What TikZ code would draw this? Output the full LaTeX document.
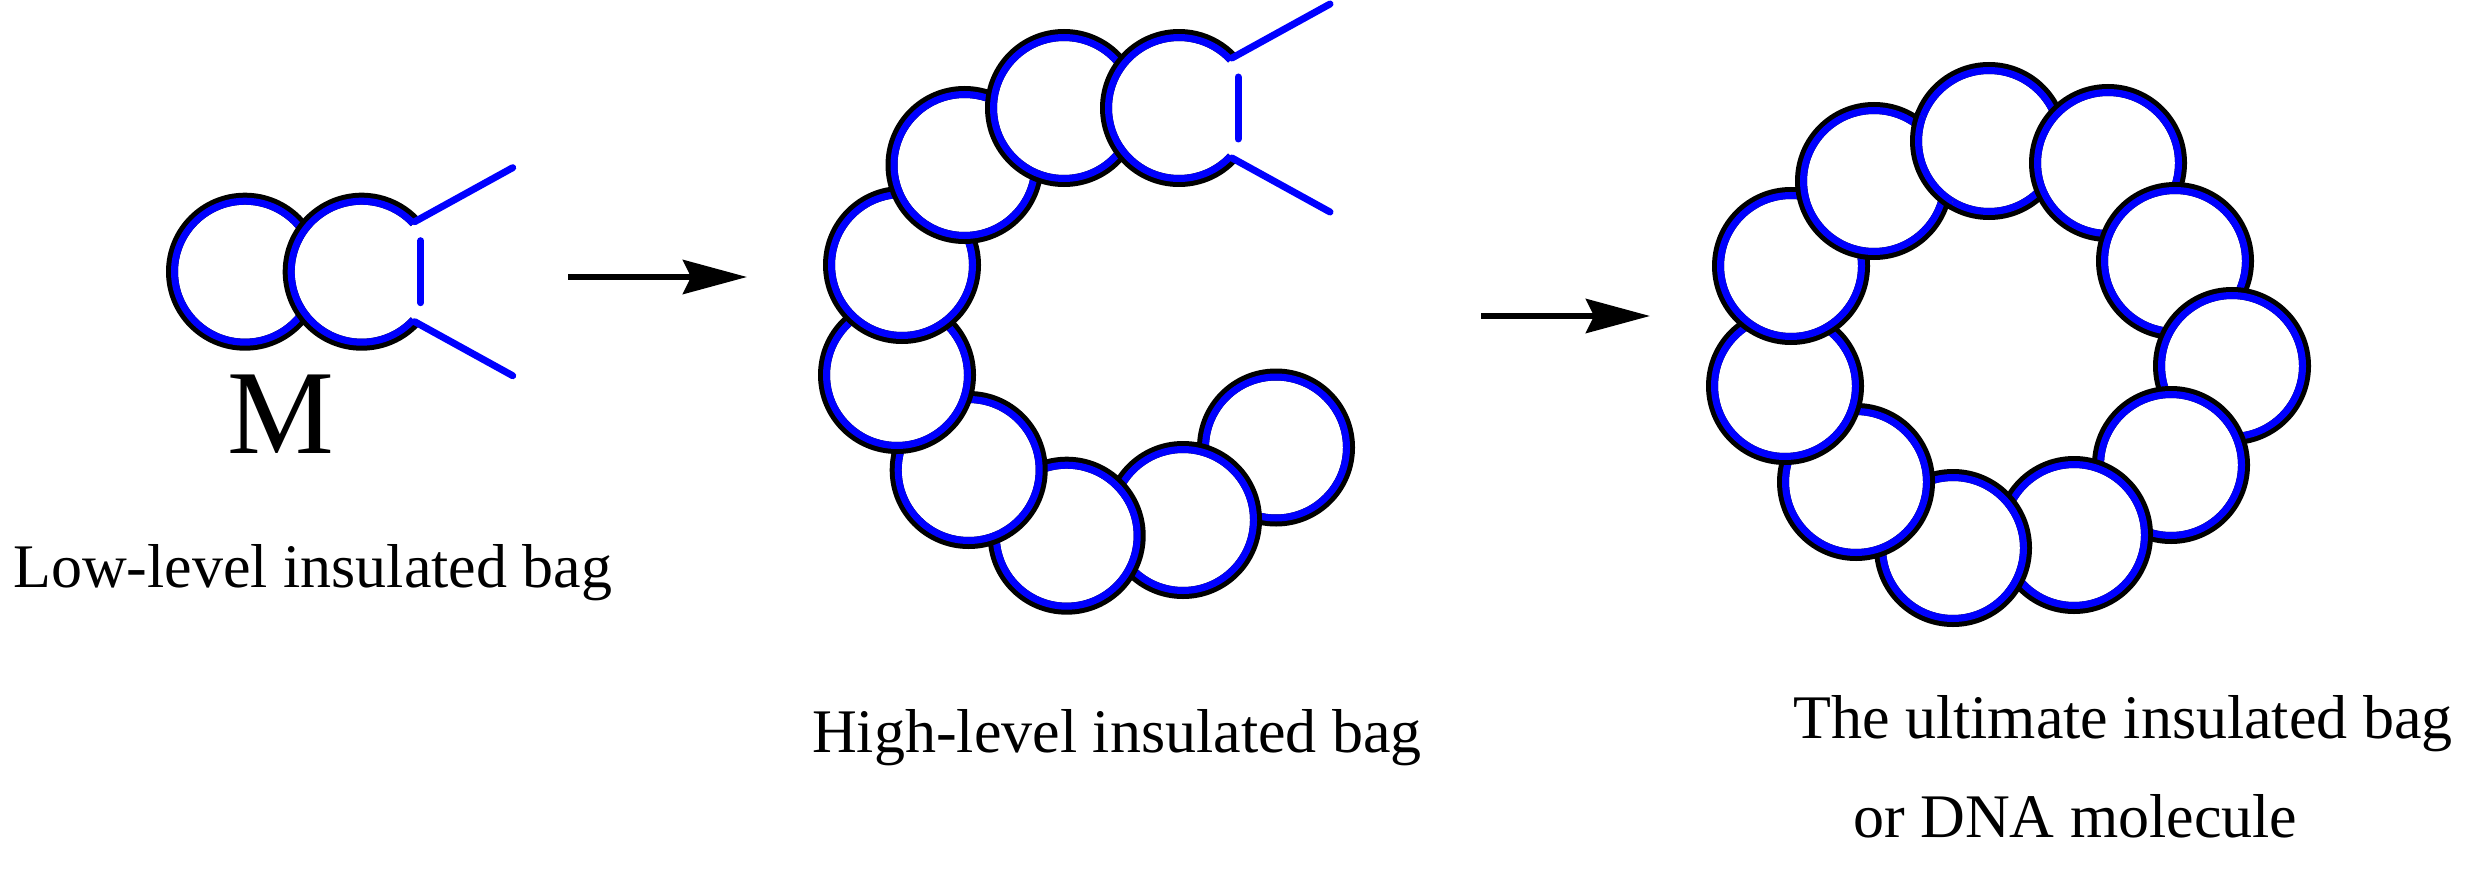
\documentclass[tikz,border=0pt]{standalone}
\usepackage{fontspec}
\setmainfont{Liberation Serif}
\usetikzlibrary{arrows.meta}
\tikzset{
  beadout/.style={draw=black,line width=12pt},
  beadin/.style={draw=blue,line width=7pt},
  blueline/.style={draw=blue,line width=7pt,line cap=round},
  bigarrow/.style={draw=black,line width=6pt,-{Stealth[length=64pt,width=34pt,inset=8pt]}},
  label/.style={inner sep=0pt,font=\fontsize{62}{62}\selectfont},
}
\newcommand{\bead}[1]{%
  \fill[white] (#1) circle[radius=73];
  \draw[beadout] (#1) circle[radius=73];
  \draw[beadin] (#1) circle[radius=70.5];
}
\newcommand{\openbead}[1]{%
  \fill[white] (#1) circle[radius=73];
  \draw[beadout] (#1) ++(43:73) arc[start angle=43,end angle=317,radius=73];
  \draw[beadin] (#1) ++(43:70.5) arc[start angle=43,end angle=317,radius=70.5];
  \draw[blueline] ([shift={(53,-50)}]#1) -- ([shift={(151,-104)}]#1);
  \draw[blueline] ([shift={(53,50)}]#1) -- ([shift={(151,104)}]#1);
  \draw[blueline] ([shift={(59,-31)}]#1) -- ([shift={(59,31)}]#1);
}
\begin{document}
\begin{tikzpicture}[x=1pt,y=-1pt]
\useasboundingbox (0,0) rectangle (2467,869);
% ---------- low-level bag ----------
\coordinate (m1) at (245,271.7);
\coordinate (m2) at (361.7,271.7);
\bead{m1}
\openbead{m2}
\node[inner sep=0pt,anchor=base,font=\fontsize{120}{120}\selectfont] (M) at (280.5,453) {M};
\node[label,anchor=base west] (low) at (13,587) {Low-level insulated bag};
% ---------- high-level bag ----------
\coordinate (cA) at (1179,108);
\coordinate (cB) at (1064,108);
\coordinate (cC) at (964.5,165);
\coordinate (cD) at (902,265);
\coordinate (cE) at (897,375);
\coordinate (cF) at (968.7,470);
\coordinate (cG) at (1066.7,535.7);
\coordinate (cH) at (1183,520);
\coordinate (cI) at (1276,447.5);
\bead{cI}
\bead{cH}
\bead{cG}
\bead{cF}
\bead{cE}
\bead{cD}
\bead{cC}
\bead{cB}
\openbead{cA}
\node[label,anchor=base west] (high) at (812,752) {High-level insulated bag};
% ---------- ring ----------
\coordinate (r1) at (1989,141);
\coordinate (r2) at (2108,163);
\coordinate (r3) at (2175,261);
\coordinate (r4) at (2232,366);
\coordinate (r5) at (2171,465);
\coordinate (r6) at (2074,535);
\coordinate (r7) at (1953,548);
\coordinate (r8) at (1856,482);
\coordinate (r9) at (1785,386);
\coordinate (r10) at (1791,266);
\coordinate (r11) at (1874,181);
\bead{r1}
\bead{r2}
\bead{r3}
\bead{r4}
\bead{r5}
\bead{r6}
\bead{r7}
\bead{r8}
\bead{r9}
\bead{r10}
\bead{r11}
\begin{scope}
  \clip (r11) circle[radius=81];
  \bead{r1}
\end{scope}
\node[label,anchor=base west] (ult1) at (1793,738) {The ultimate insulated bag};
\node[label,anchor=base west] (ult2) at (1853,837) {or DNA molecule};
% ---------- arrows ----------
\coordinate (a1s) at (568,277);
\coordinate (a1e) at (747,277);
\coordinate (a2s) at (1481,316);
\coordinate (a2e) at (1650,316);
\draw[bigarrow] (a1s) -- (a1e);
\draw[bigarrow] (a2s) -- (a2e);
\end{tikzpicture}
\end{document}
